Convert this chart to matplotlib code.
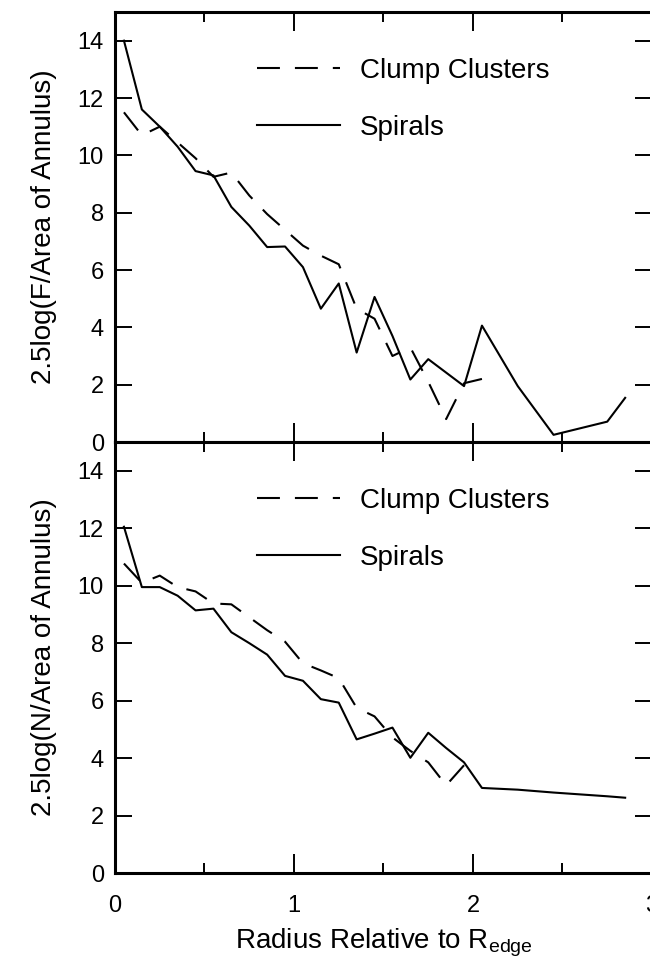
import matplotlib.pyplot as plt
from matplotlib.ticker import MultipleLocator

plt.rcParams['font.family'] = ['Liberation Sans', 'DejaVu Sans']
plt.rcParams['mathtext.fontset'] = 'custom'
plt.rcParams['mathtext.rm'] = 'Liberation Sans'

# Surface brightness profiles, 2.5log(F/area) per annulus
r_clump_f = [0.05, 0.15, 0.25, 0.35, 0.45, 0.55, 0.65, 0.75, 0.85, 0.95, 1.05,
             1.15, 1.25, 1.35, 1.45, 1.55, 1.65, 1.75, 1.85, 1.95, 2.05]
clump_f = [11.5, 10.7, 11.0, 10.45, 9.9, 9.25, 9.4, 8.6, 7.95, 7.4, 6.85,
           6.5, 6.2, 4.65, 4.3, 3.0, 3.3, 2.1, 0.8, 2.05, 2.2]

r_spiral_f = [0.05, 0.15, 0.25, 0.35, 0.45, 0.55, 0.65, 0.75, 0.85, 0.95, 1.05,
              1.15, 1.25, 1.35, 1.45, 1.55, 1.65, 1.75, 1.95, 2.05, 2.25,
              2.45, 2.75, 2.85]
spiral_f = [14.0, 11.6, 11.0, 10.3, 9.45, 9.3, 8.2, 7.55, 6.8, 6.82, 6.1,
            4.65, 5.53, 3.12, 5.06, 3.7, 2.18, 2.89, 1.95, 4.06, 1.95,
            0.25, 0.71, 1.54]

# Clump number density, 2.5log(N/area) per annulus
r_clump_n = [0.05, 0.15, 0.25, 0.35, 0.45, 0.55, 0.65, 0.75, 0.85, 0.95, 1.05,
             1.15, 1.25, 1.35, 1.45, 1.55, 1.65, 1.75, 1.85, 1.95]
clump_n = [10.77, 10.1, 10.35, 9.95, 9.8, 9.38, 9.35, 8.9, 8.45, 8.05, 7.3,
           7.05, 6.78, 5.75, 5.45, 4.72, 4.25, 3.85, 3.05, 3.75]

r_spiral_n = [0.05, 0.15, 0.25, 0.35, 0.45, 0.55, 0.65, 0.75, 0.85, 0.95, 1.05,
              1.15, 1.25, 1.35, 1.45, 1.55, 1.65, 1.75, 1.85, 1.95, 2.05,
              2.25, 2.45, 2.75, 2.85]
spiral_n = [12.05, 9.95, 9.95, 9.65, 9.14, 9.2, 8.38, 8.0, 7.6, 6.86, 6.69,
            6.05, 5.93, 4.65, 4.85, 5.06, 4.01, 4.88, 4.35, 3.85, 2.96,
            2.9, 2.8, 2.67, 2.62]

panels = [
    (r_clump_f, clump_f, r_spiral_f, spiral_f, '2.5log(F/Area of Annulus)'),
    (r_clump_n, clump_n, r_spiral_n, spiral_n, '2.5log(N/Area of Annulus)'),
]

fig = plt.figure(figsize=(6.5, 9.71), dpi=100)
left, width = 115 / 650, 537 / 650
ax_top = fig.add_axes([left, 1 - 442 / 971, width, 430 / 971])
ax_bot = fig.add_axes([left, 1 - 873 / 971, width, 431 / 971], sharex=ax_top)

dash = (0, (11, 7.2))

for ax, (rc, yc, rs, ys, ylab) in zip([ax_top, ax_bot], panels):
    ax.plot(rc, yc, color='black', lw=1.5, linestyle=dash, label='Clump Clusters')
    ax.plot(rs, ys, color='black', lw=1.5, label='Spirals')
    ax.set_xlim(0, 3)
    ax.set_ylim(0, 15)
    ax.xaxis.set_major_locator(MultipleLocator(1))
    ax.xaxis.set_minor_locator(MultipleLocator(0.5))
    ax.yaxis.set_major_locator(MultipleLocator(2))
    ax.tick_params(which='both', direction='in', top=True, right=True,
                   width=1.4, labelsize=17, colors='black')
    ax.tick_params(axis='x', which='major', length=14, pad=16)
    ax.tick_params(axis='x', which='minor', length=7)
    ax.tick_params(axis='y', which='major', length=12, pad=8)
    for s in ax.spines.values():
        s.set_linewidth(2.2)
    ax.set_ylabel(ylab, fontsize=20)
    ax.yaxis.set_label_coords(-0.108, 0.5)
    ax.legend(loc='upper left', bbox_to_anchor=(0.264, 0.893), frameon=False,
              fontsize=20, handlelength=3.0, handletextpad=0.7,
              labelspacing=1.1, borderpad=0, borderaxespad=0)

ax_top.tick_params(axis='x', labelbottom=False)
ax_bot.set_xlabel(r'Radius Relative to R$_{\rm edge}$', fontsize=20)
ax_bot.xaxis.set_label_coords(0.5, -0.125)

fig.savefig('out.png', dpi=100)
